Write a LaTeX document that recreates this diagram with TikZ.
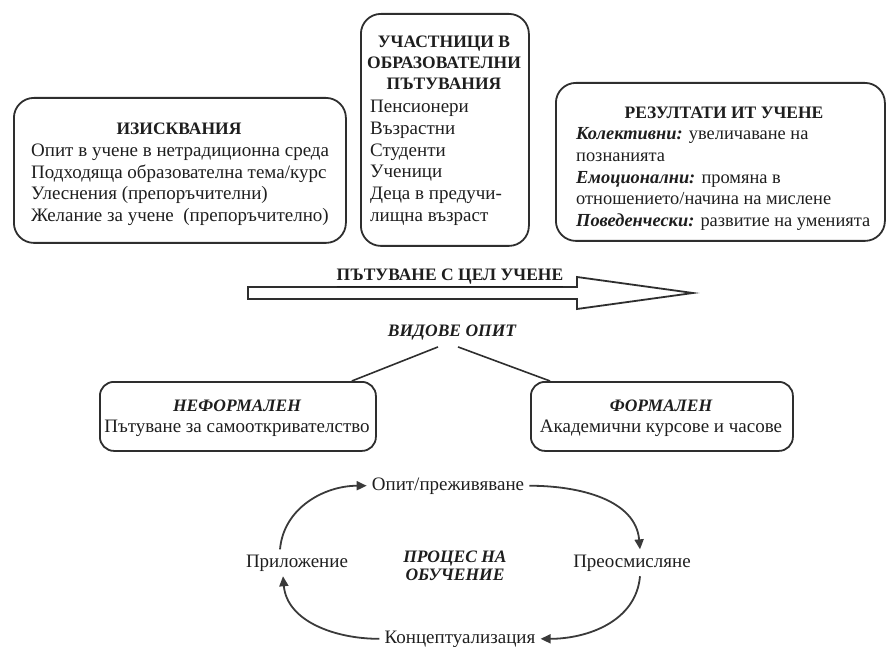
\documentclass[tikz,border=0pt]{standalone}
\usepackage{fontspec}
\setmainfont{Liberation Serif}
\usetikzlibrary{arrows.meta}
\definecolor{boxc}{HTML}{2E2E2E}
\definecolor{txtc}{HTML}{1E1E1E}
\definecolor{cycc}{HTML}{3A3A3A}
\begin{document}
\begin{tikzpicture}[x=1pt,y=-1pt,
  box/.style={draw=boxc, line width=1.8pt, rounded corners=20pt, inner sep=0pt},
  txt/.style={inner sep=0pt, text=txtc, font=\fontsize{19}{22}\selectfont},
  rtxt/.style={inner sep=0pt, text=txtc, font=\fontsize{18.4}{22}\selectfont},
  ttl/.style={txt, font=\fontsize{17.5}{21}\selectfont\bfseries},
  ttli/.style={txt, font=\fontsize{17.5}{21}\selectfont\bfseries\itshape},
  cyc/.style={txt, inner sep=5pt},
  conn/.style={draw=boxc, line width=1.6pt},
  cycarrow/.style={draw=cycc, line width=1.8pt, -{Triangle[length=10pt,width=9pt]}}
]
\useasboundingbox (0,0) rectangle (887,647);

% ---------- top left box
\node[box, anchor=north west, minimum width=332pt, minimum height=145pt] (req) at (13,97) {};
\node[ttl, anchor=base] (reqT) at (179,135) {ИЗИСКВАНИЯ};
\node[txt, anchor=base west] (req1) at (31,157) {Опит в учене в нетрадиционна среда};
\node[txt, anchor=base west] (req2) at (31,179) {Подходяща образователна тема/курс};
\node[txt, anchor=base west] (req3) at (31,200) {Улеснения (препоръчителни)};
\node[txt, anchor=base west] (req4) at (31,222) {Желание за учене\ \ (препоръчително)};

% ---------- middle box
\node[box, anchor=north west, minimum width=168pt, minimum height=232pt] (part) at (360,13) {};
\node[ttl, anchor=base] (partT1) at (444,48) {УЧАСТНИЦИ В};
\node[ttl, anchor=base] (partT2) at (444,69) {ОБРАЗОВАТЕЛНИ};
\node[ttl, anchor=base] (partT3) at (444,90) {ПЪТУВАНИЯ};
\node[txt, anchor=base west] (part1) at (370,113) {Пенсионери};
\node[txt, anchor=base west] (part2) at (370,135) {Възрастни};
\node[txt, anchor=base west] (part3) at (370,157) {Студенти};
\node[txt, anchor=base west] (part4) at (370,178) {Ученици};
\node[txt, anchor=base west] (part5) at (370,200) {Деца в предучи-};
\node[txt, anchor=base west] (part6) at (370,222) {лищна възраст};

% ---------- right box
\node[box, anchor=north west, minimum width=329pt, minimum height=158pt] (res) at (555,82) {};
\node[ttl, anchor=base] (resT) at (724,119) {РЕЗУЛТАТИ ИТ УЧЕНЕ};
\node[rtxt, anchor=base west] (res1) at (576,140) {\textbf{\textit{Колективни:}} увеличаване на};
\node[rtxt, anchor=base west] (res2) at (576,162) {познанията};
\node[rtxt, anchor=base west] (res3) at (576,184) {\textbf{\textit{Емоционални:}} промяна в};
\node[rtxt, anchor=base west] (res4) at (576,205) {отношението/начина на мислене};
\node[rtxt, anchor=base west] (res5) at (576,227) {\textbf{\textit{Поведенчески:}} развитие на уменията};

% ---------- big arrow
\draw[boxc, line width=1.8pt, line join=miter, fill=white]
  (248,287) -- (577,287) -- (577,277) -- (693,293) -- (577,309) -- (577,299) -- (248,299) -- cycle;
\node[ttl, anchor=base] (travel) at (450,281) {\underline{ПЪТУВАНЕ С ЦЕЛ УЧЕНЕ}};

% ---------- kinds of experience
\node[ttli, anchor=base] (kinds) at (452,337) {ВИДОВЕ ОПИТ};
\node[box, rounded corners=14pt, anchor=north west, minimum width=276pt, minimum height=69pt] (inf) at (99,381) {};
\node[ttli, anchor=base] (infT) at (237,411) {НЕФОРМАЛЕН};
\node[txt, anchor=base] (inf1) at (237,432) {Пътуване за самооткривателство};
\node[box, rounded corners=14pt, anchor=north west, minimum width=262pt, minimum height=69pt] (form) at (530,381) {};
\node[ttli, anchor=base] (formT) at (661,411) {ФОРМАЛЕН};
\node[txt, anchor=base] (form1) at (661,432) {Академични курсове и часове};
\draw[conn] ([xshift=-14pt,yshift=-6pt]kinds.south) -- ([xshift=-25pt]inf.north east);
\draw[conn] ([xshift=6pt,yshift=-6pt]kinds.south) -- ([xshift=20pt]form.north west);

% ---------- learning cycle
\node[cyc, anchor=base] (op) at (448,490) {Опит/преживяване};
\node[cyc, anchor=base] (pril) at (297,567) {Приложение};
\node[cyc, anchor=base] (preo) at (632,567) {Преосмисляне};
\node[cyc, anchor=base] (konc) at (460,643) {Концептуализация};
\node[ttli, anchor=base] (proc1) at (455,562) {ПРОЦЕС НА};
\node[ttli, anchor=base] (proc2) at (455,580) {ОБУЧЕНИЕ};
\draw[cycarrow] ([xshift=-17pt]pril.north) to[out=85,in=180] (op.west);
\draw[cycarrow] (op.east) to[out=0,in=95] ([xshift=8pt]preo.north);
\draw[cycarrow] ([xshift=8pt]preo.south) to[out=-95,in=0] (konc.east);
\draw[cycarrow] (konc.west) to[out=180,in=-85] ([xshift=-14pt]pril.south);
\end{tikzpicture}
\end{document}
